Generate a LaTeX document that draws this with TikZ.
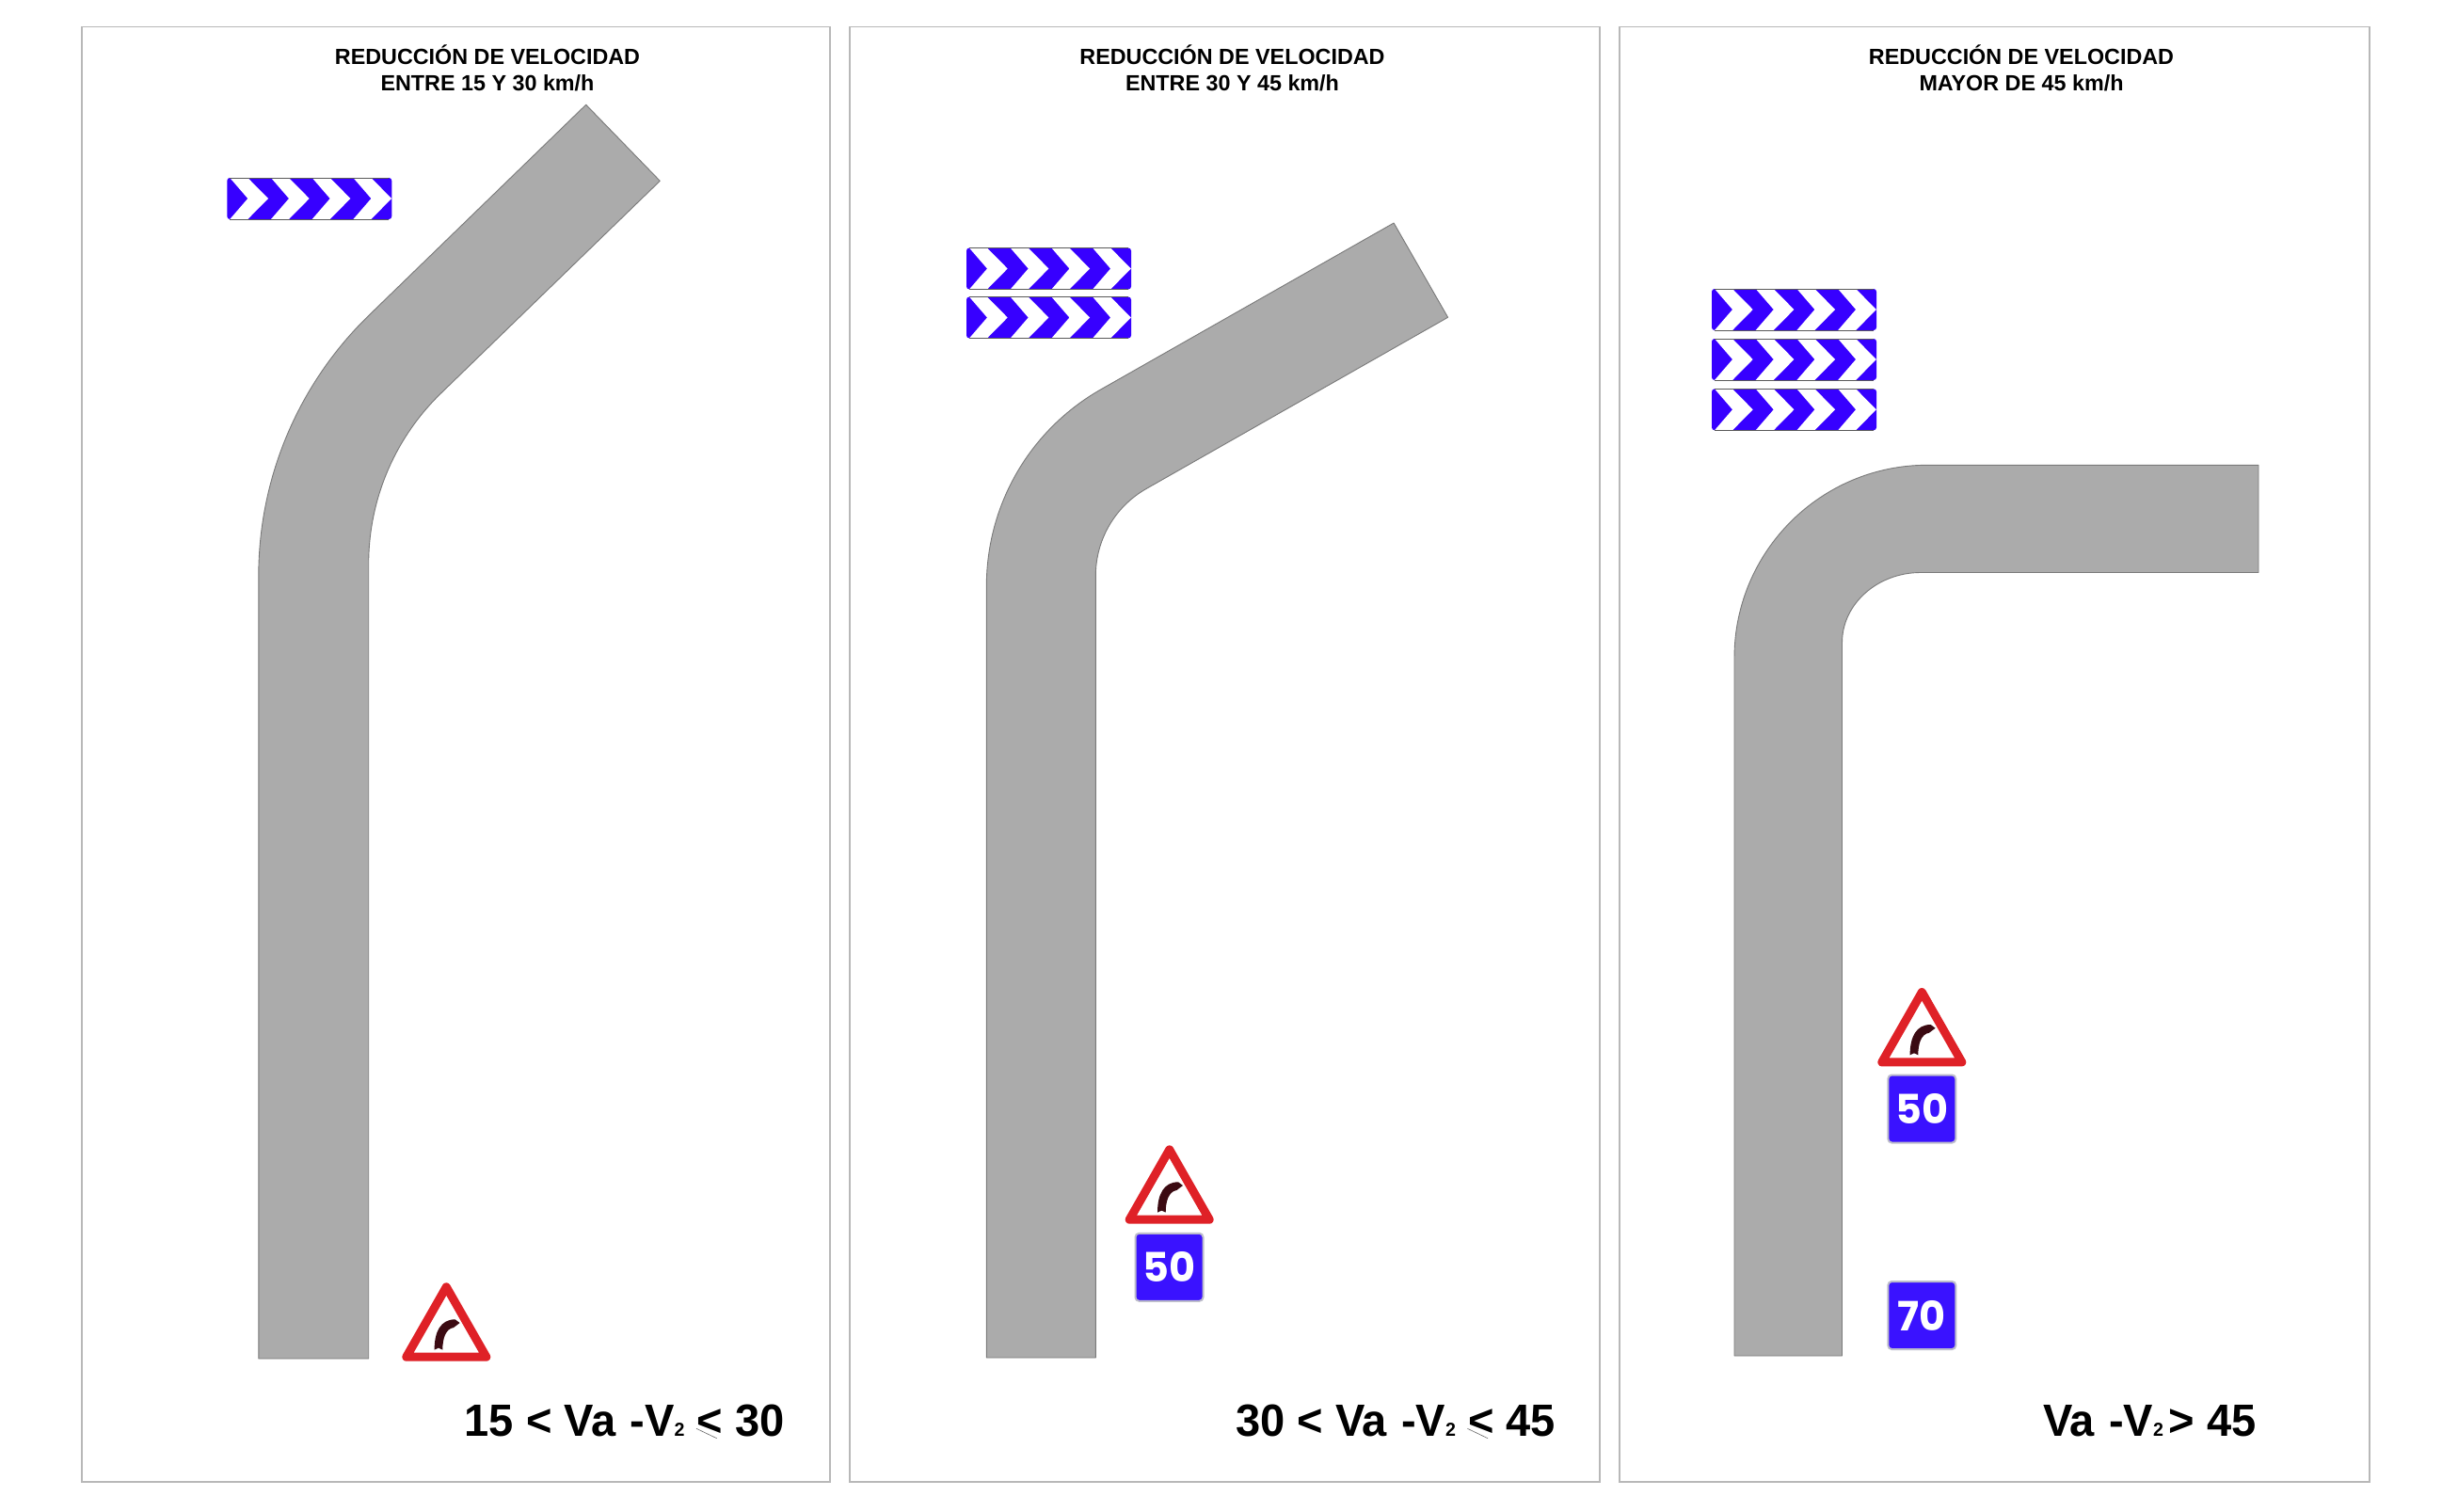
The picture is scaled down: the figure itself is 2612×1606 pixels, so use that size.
\documentclass[tikz,border=0pt]{standalone}
\usepackage{fontspec}
\setmainfont{Liberation Sans}
\newfontfamily\signfont{Poppins}
\newfontfamily\formulafont[FakeStretch=0.98]{Liberation Sans}
\definecolor{panelline}{HTML}{B8B8B8}
\definecolor{roadgrey}{HTML}{ABABAB}
\definecolor{roadedge}{HTML}{7A7A7A}
\definecolor{signblue}{HTML}{3700FF}
\definecolor{plateblue}{HTML}{3A12FF}
\definecolor{signred}{HTML}{DF2127}
\definecolor{curvedark}{HTML}{3B0A12}
\definecolor{plateedge}{HTML}{BDBDCB}
\tikzset{
  panel/.style={draw=panelline,line width=0.9pt,fill=white},
  road/.style={draw=roadedge,fill=roadgrey,line width=0.45pt,line join=round},
  titletext/.style={inner sep=0pt,anchor=base,align=center,font=\bfseries\fontsize{11.67}{14.2}\selectfont},
  formula/.style={inner sep=0pt,anchor=base west,font=\formulafont\bfseries\fontsize{24}{28}\selectfont},
  leqstroke/.style={draw=black!60,line width=0.3pt},
  plate/.style={draw=plateedge,fill=plateblue,line width=1pt,rounded corners=2pt,minimum width=36pt,minimum height=36pt,inner sep=0pt,text=white,font=\signfont\bfseries\fontsize{21.5}{24}\selectfont},
  chevron/.pic={
    \fill[signblue,rounded corners=1.5pt] (0,0) rectangle (175,44);
    \foreach \i in {0,1,2,3}{
      \fill[white,shift={(43.7*\i,0)}] (3,0)--(22,0)--(43.7,22)--(22,44)--(3,44)--(22,22)--cycle;
    }
    \draw[black!65,line width=0.45pt] (3,0)--(172,0) (3,44)--(172,44);
  },
  warning/.pic={
    \draw[signred,fill=white,line width=4.5pt,line join=round] (0,4.5)--(42.5,78.9)--(-42.5,78.9)--cycle;
    \fill[curvedark] (-12.7,71.3)--(-8.3,69.3)--(-4,71.3)
      .. controls (-4,60) and (-1,49) .. (7.7,47.7)--(14.3,42.7)--(9.3,39)
      .. controls (-6,39) and (-12.7,52) .. (-12.7,71.3)--cycle;
  }
}
\newcommand{\subtwo}{{\fontsize{10}{10}\selectfont 2}}
\begin{document}
\begin{tikzpicture}[x=0.5pt,y=-0.5pt]
\useasboundingbox (0,0) rectangle (2612,1606);
% panels
\draw[panel] (86.6,28.5) rectangle (882,1574.8);
\draw[panel] (903,28.5) rectangle (1700,1574.8);
\draw[panel] (1721,28.5) rectangle (2518,1574.8);
% titles
\node[titletext] (t1) at (518,96.7) {REDUCCIÓN DE VELOCIDAD\\ENTRE 15 Y 30 km/h};
\node[titletext] (t2) at (1309.5,96.7) {REDUCCIÓN DE VELOCIDAD\\ENTRE 30 Y 45 km/h};
\node[titletext] (t3) at (2148,96.7) {REDUCCIÓN DE VELOCIDAD\\MAYOR DE 45 km/h};
% roads
\draw[road] (274.8,1444)--(274.8,612.3) .. controls (274.8,507.7) and (317.1,407.8) .. (392.2,335)
  --(622.7,111.3)--(701.3,192.3)--(468.5,418.1)
  .. controls (419.3,465.8) and (391.7,531.1) .. (391.7,599.6)--(391.7,1444)--cycle;
\draw[road] (1048.3,1443)--(1048.3,623) .. controls (1048.3,536.2) and (1094.5,456.7) .. (1170,413.8)
  --(1481.1,237)--(1538.6,337.3)--(1218.2,519.4)
  .. controls (1184.8,538.4) and (1164.3,573.6) .. (1164.3,612)--(1164.3,1443)--cycle;
\draw[road] (1843,1441)--(1843,699) .. controls (1843,586) and (1935,494.3) .. (2048,494.3)
  --(2400,494.3)--(2400,608.5)--(2041,608.5)
  .. controls (1995,608.5) and (1957.5,642) .. (1957.5,683)--(1957.5,1441)--cycle;
% chevron boards
\pic at (241.3,189) {chevron};
\pic at (1027,263.5) {chevron};
\pic at (1027,315.5) {chevron};
\pic at (1819,307) {chevron};
\pic at (1819,360) {chevron};
\pic at (1819,413.3) {chevron};
% warning triangles
\pic at (474.3,1363.3) {warning};
\pic at (1242.7,1217.3) {warning};
\pic at (2042.3,1050) {warning};
% speed plates
\node[plate] (p2) at (1242.5,1346.8) {50};
\node[plate] (p3a) at (2042.3,1178.5) {50};
\node[plate] (p3b) at (2042.3,1398) {70};
% formulae
\node[formula] (f1) at (493.3,1526.5) {15 < Va\hspace{1pt} -V\subtwo{} < 30};
\node[formula] (f2) at (1312.7,1526.5) {30 < Va\hspace{1pt} -V\subtwo{} < 45};
\node[formula] (f3) at (2170.6,1526.5) {Va\hspace{1pt} -V\subtwo{}\hspace{3pt}> 45};
\draw[leqstroke] (740,1518.3)--(761.7,1528.7);
\draw[leqstroke] (1559.4,1518.3)--(1581,1528.7);
\end{tikzpicture}
\end{document}
